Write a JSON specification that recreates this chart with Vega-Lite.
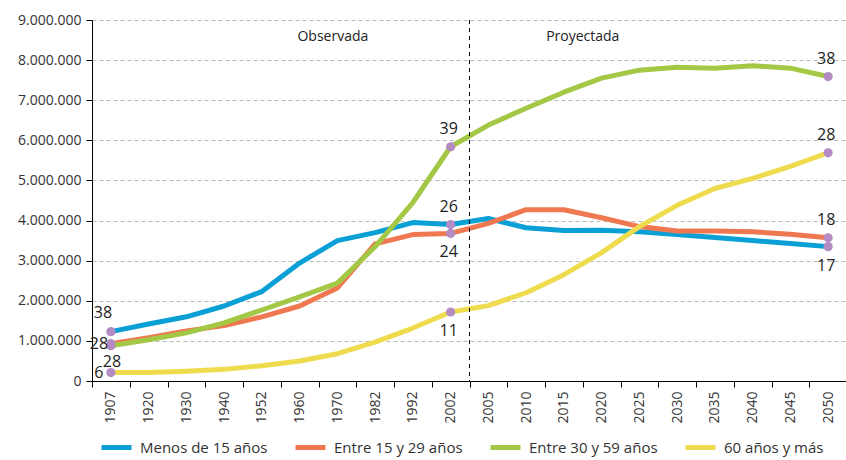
{
  "$schema": "https://vega.github.io/schema/vega-lite/v6.json",
  "width": 755,
  "height": 361,
  "autosize": "none",
  "padding": {"left": 92, "top": 20, "right": 0, "bottom": 79},
  "background": "white",
  "config": {
    "font": "Open Sans",
    "view": {"stroke": null},
    "locale": {"number": {"decimal": ",", "thousands": ".", "grouping": [3], "currency": ["", " €"]}}
  },
  "datasets": {
    "series": [
      {"year": "1907", "serie": "Menos de 15 años", "v": 1230000},
      {"year": "1920", "serie": "Menos de 15 años", "v": 1420000},
      {"year": "1930", "serie": "Menos de 15 años", "v": 1600000},
      {"year": "1940", "serie": "Menos de 15 años", "v": 1870000},
      {"year": "1952", "serie": "Menos de 15 años", "v": 2230000},
      {"year": "1960", "serie": "Menos de 15 años", "v": 2940000},
      {"year": "1970", "serie": "Menos de 15 años", "v": 3500000},
      {"year": "1982", "serie": "Menos de 15 años", "v": 3700000},
      {"year": "1992", "serie": "Menos de 15 años", "v": 3950000},
      {"year": "2002", "serie": "Menos de 15 años", "v": 3900000},
      {"year": "2005", "serie": "Menos de 15 años", "v": 4050000},
      {"year": "2010", "serie": "Menos de 15 años", "v": 3820000},
      {"year": "2015", "serie": "Menos de 15 años", "v": 3750000},
      {"year": "2020", "serie": "Menos de 15 años", "v": 3760000},
      {"year": "2025", "serie": "Menos de 15 años", "v": 3720000},
      {"year": "2030", "serie": "Menos de 15 años", "v": 3650000},
      {"year": "2035", "serie": "Menos de 15 años", "v": 3580000},
      {"year": "2040", "serie": "Menos de 15 años", "v": 3500000},
      {"year": "2045", "serie": "Menos de 15 años", "v": 3430000},
      {"year": "2050", "serie": "Menos de 15 años", "v": 3350000},
      {"year": "1907", "serie": "Entre 15 y 29 años", "v": 930000},
      {"year": "1920", "serie": "Entre 15 y 29 años", "v": 1080000},
      {"year": "1930", "serie": "Entre 15 y 29 años", "v": 1250000},
      {"year": "1940", "serie": "Entre 15 y 29 años", "v": 1380000},
      {"year": "1952", "serie": "Entre 15 y 29 años", "v": 1600000},
      {"year": "1960", "serie": "Entre 15 y 29 años", "v": 1870000},
      {"year": "1970", "serie": "Entre 15 y 29 años", "v": 2320000},
      {"year": "1982", "serie": "Entre 15 y 29 años", "v": 3420000},
      {"year": "1992", "serie": "Entre 15 y 29 años", "v": 3650000},
      {"year": "2002", "serie": "Entre 15 y 29 años", "v": 3680000},
      {"year": "2005", "serie": "Entre 15 y 29 años", "v": 3930000},
      {"year": "2010", "serie": "Entre 15 y 29 años", "v": 4270000},
      {"year": "2015", "serie": "Entre 15 y 29 años", "v": 4270000},
      {"year": "2020", "serie": "Entre 15 y 29 años", "v": 4070000},
      {"year": "2025", "serie": "Entre 15 y 29 años", "v": 3850000},
      {"year": "2030", "serie": "Entre 15 y 29 años", "v": 3740000},
      {"year": "2035", "serie": "Entre 15 y 29 años", "v": 3740000},
      {"year": "2040", "serie": "Entre 15 y 29 años", "v": 3720000},
      {"year": "2045", "serie": "Entre 15 y 29 años", "v": 3660000},
      {"year": "2050", "serie": "Entre 15 y 29 años", "v": 3570000},
      {"year": "1907", "serie": "Entre 30 y 59 años", "v": 880000},
      {"year": "1920", "serie": "Entre 30 y 59 años", "v": 1030000},
      {"year": "1930", "serie": "Entre 30 y 59 años", "v": 1200000},
      {"year": "1940", "serie": "Entre 30 y 59 años", "v": 1450000},
      {"year": "1952", "serie": "Entre 30 y 59 años", "v": 1770000},
      {"year": "1960", "serie": "Entre 30 y 59 años", "v": 2100000},
      {"year": "1970", "serie": "Entre 30 y 59 años", "v": 2440000},
      {"year": "1982", "serie": "Entre 30 y 59 años", "v": 3350000},
      {"year": "1992", "serie": "Entre 30 y 59 años", "v": 4450000},
      {"year": "2002", "serie": "Entre 30 y 59 años", "v": 5840000},
      {"year": "2005", "serie": "Entre 30 y 59 años", "v": 6380000},
      {"year": "2010", "serie": "Entre 30 y 59 años", "v": 6800000},
      {"year": "2015", "serie": "Entre 30 y 59 años", "v": 7200000},
      {"year": "2020", "serie": "Entre 30 y 59 años", "v": 7550000},
      {"year": "2025", "serie": "Entre 30 y 59 años", "v": 7750000},
      {"year": "2030", "serie": "Entre 30 y 59 años", "v": 7820000},
      {"year": "2035", "serie": "Entre 30 y 59 años", "v": 7800000},
      {"year": "2040", "serie": "Entre 30 y 59 años", "v": 7860000},
      {"year": "2045", "serie": "Entre 30 y 59 años", "v": 7800000},
      {"year": "2050", "serie": "Entre 30 y 59 años", "v": 7590000},
      {"year": "1907", "serie": "60 años y más", "v": 210000},
      {"year": "1920", "serie": "60 años y más", "v": 210000},
      {"year": "1930", "serie": "60 años y más", "v": 240000},
      {"year": "1940", "serie": "60 años y más", "v": 290000},
      {"year": "1952", "serie": "60 años y más", "v": 380000},
      {"year": "1960", "serie": "60 años y más", "v": 500000},
      {"year": "1970", "serie": "60 años y más", "v": 680000},
      {"year": "1982", "serie": "60 años y más", "v": 970000},
      {"year": "1992", "serie": "60 años y más", "v": 1320000},
      {"year": "2002", "serie": "60 años y más", "v": 1720000},
      {"year": "2005", "serie": "60 años y más", "v": 1880000},
      {"year": "2010", "serie": "60 años y más", "v": 2200000},
      {"year": "2015", "serie": "60 años y más", "v": 2650000},
      {"year": "2020", "serie": "60 años y más", "v": 3200000},
      {"year": "2025", "serie": "60 años y más", "v": 3850000},
      {"year": "2030", "serie": "60 años y más", "v": 4380000},
      {"year": "2035", "serie": "60 años y más", "v": 4800000},
      {"year": "2040", "serie": "60 años y más", "v": 5050000},
      {"year": "2045", "serie": "60 años y más", "v": 5350000},
      {"year": "2050", "serie": "60 años y más", "v": 5690000}
    ],
    "pts": [
      {"year": "1907", "serie": "Menos de 15 años", "v": 1230000, "pct": "38"},
      {"year": "1907", "serie": "Entre 15 y 29 años", "v": 930000, "pct": "28"},
      {"year": "1907", "serie": "Entre 30 y 59 años", "v": 880000, "pct": "28"},
      {"year": "1907", "serie": "60 años y más", "v": 210000, "pct": "6"},
      {"year": "2002", "serie": "Menos de 15 años", "v": 3900000, "pct": "26"},
      {"year": "2002", "serie": "Entre 15 y 29 años", "v": 3680000, "pct": "24"},
      {"year": "2002", "serie": "Entre 30 y 59 años", "v": 5840000, "pct": "39"},
      {"year": "2002", "serie": "60 años y más", "v": 1720000, "pct": "11"},
      {"year": "2050", "serie": "Menos de 15 años", "v": 3350000, "pct": "17"},
      {"year": "2050", "serie": "Entre 15 y 29 años", "v": 3570000, "pct": "18"},
      {"year": "2050", "serie": "Entre 30 y 59 años", "v": 7590000, "pct": "38"},
      {"year": "2050", "serie": "60 años y más", "v": 5690000, "pct": "28"}
    ],
    "periodos": [
      {"year": "1970", "t": "Observada"},
      {"year": "2015", "t": "Proyectada"}
    ],
    "corte": [{"year": "2005"}]
  },
  "encoding": {
    "x": {
      "field": "year", "type": "nominal",
      "scale": {"type": "band", "paddingInner": 0, "paddingOuter": 0,
        "domain": ["1907","1920","1930","1940","1952","1960","1970","1982","1992","2002","2005","2010","2015","2020","2025","2030","2035","2040","2045","2050"]},
      "axis": {
        "title": null, "labelAngle": -90, "tickBand": "extent", "grid": false,
        "domainColor": "#000", "tickColor": "#000", "tickSize": 6,
        "labelFontSize": 14, "labelColor": "#333", "labelPadding": 4, "labelBaseline": "middle"
      }
    }
  },
  "layer": [
    {
      "data": {"name": "series"},
      "mark": {"type": "line", "strokeWidth": 5, "strokeCap": "butt", "strokeJoin": "round"},
      "encoding": {
        "x": {"field": "year", "type": "nominal", "bandPosition": 0.5},
        "y": {
          "field": "v", "type": "quantitative",
          "scale": {"domain": [0, 9000000], "nice": false},
          "axis": {
            "title": null, "tickCount": 9, "format": ",.0f",
            "grid": true, "gridDash": [4, 3], "gridColor": "#b8b8b8", "gridWidth": 1,
            "domainColor": "#000", "tickColor": "#000", "tickSize": 6,
            "labelFontSize": 14, "labelColor": "#333", "labelPadding": 5
          }
        },
        "color": {
          "field": "serie", "type": "nominal",
          "scale": {
            "domain": ["Menos de 15 años", "Entre 15 y 29 años", "Entre 30 y 59 años", "60 años y más"],
            "range": ["#0AA0D6", "#F07850", "#A2C845", "#EEDC4E"]
          },
          "legend": {
            "title": null, "orient": "none", "direction": "horizontal",
            "legendX": 7, "legendY": 410, "gridAlign": "none",
            "symbolType": "stroke", "symbolSize": 900, "symbolStrokeWidth": 5,
            "labelFontSize": 15, "labelColor": "#333", "labelOffset": 6,
            "columnPadding": 17
          }
        }
      }
    },
    {
      "data": {"name": "corte"},
      "mark": {"type": "rule", "color": "#000", "strokeDash": [4, 4], "strokeWidth": 1},
      "encoding": {
        "x": {"field": "year", "type": "nominal", "bandPosition": 0}
      }
    },
    {
      "data": {"name": "periodos"},
      "transform": [{"filter": "datum.t == 'Observada'"}],
      "mark": {"type": "text", "fontSize": 14, "color": "#222", "baseline": "middle"},
      "encoding": {
        "x": {"field": "year", "type": "nominal", "bandPosition": 0.38},
        "y": {"datum": 8580000, "type": "quantitative"},
        "text": {"field": "t"}
      }
    },
    {
      "data": {"name": "periodos"},
      "transform": [{"filter": "datum.t == 'Proyectada'"}],
      "mark": {"type": "text", "fontSize": 14, "color": "#222", "baseline": "middle"},
      "encoding": {
        "x": {"field": "year", "type": "nominal", "bandPosition": 1},
        "y": {"datum": 8580000, "type": "quantitative"},
        "text": {"field": "t"}
      }
    },
    {
      "data": {"name": "pts"},
      "mark": {"type": "circle", "size": 85, "color": "#B58BC3", "opacity": 1},
      "encoding": {
        "x": {"field": "year", "type": "nominal", "bandPosition": 0.5},
        "y": {"field": "v", "type": "quantitative"}
      }
    },
    {
      "data": {"name": "pts"},
      "transform": [{"filter": "(datum.year == '2002' && (datum.serie == 'Entre 30 y 59 años' || datum.serie == 'Menos de 15 años')) || (datum.year == '2050' && datum.serie != 'Menos de 15 años')"}],
      "mark": {"type": "text", "fontSize": 16, "color": "#222", "baseline": "middle", "dy": -18, "dx": -2},
      "encoding": {
        "x": {"field": "year", "type": "nominal", "bandPosition": 0.5},
        "y": {"field": "v", "type": "quantitative"},
        "text": {"field": "pct"}
      }
    },
    {
      "data": {"name": "pts"},
      "transform": [{"filter": "(datum.year == '2002' && (datum.serie == 'Entre 15 y 29 años' || datum.serie == '60 años y más')) || (datum.year == '2050' && datum.serie == 'Menos de 15 años')"}],
      "mark": {"type": "text", "fontSize": 16, "color": "#222", "baseline": "middle", "dy": 19, "dx": -2},
      "encoding": {
        "x": {"field": "year", "type": "nominal", "bandPosition": 0.5},
        "y": {"field": "v", "type": "quantitative"},
        "text": {"field": "pct"}
      }
    },
    {
      "data": {"name": "pts"},
      "transform": [{"filter": "datum.year == '1907' && datum.serie == 'Menos de 15 años'"}],
      "mark": {"type": "text", "fontSize": 16, "color": "#222", "baseline": "middle", "dy": -19, "dx": -8},
      "encoding": {
        "x": {"field": "year", "type": "nominal", "bandPosition": 0.5},
        "y": {"field": "v", "type": "quantitative"},
        "text": {"field": "pct"}
      }
    },
    {
      "data": {"name": "pts"},
      "transform": [{"filter": "datum.year == '1907' && (datum.serie == 'Entre 15 y 29 años' || datum.serie == '60 años y más')"}],
      "mark": {"type": "text", "fontSize": 16, "color": "#222", "baseline": "middle", "dy": 0, "dx": -12},
      "encoding": {
        "x": {"field": "year", "type": "nominal", "bandPosition": 0.5},
        "y": {"field": "v", "type": "quantitative"},
        "text": {"field": "pct"}
      }
    },
    {
      "data": {"name": "pts"},
      "transform": [{"filter": "datum.year == '1907' && datum.serie == 'Entre 30 y 59 años'"}],
      "mark": {"type": "text", "fontSize": 16, "color": "#222", "baseline": "middle", "dy": 16, "dx": 1},
      "encoding": {
        "x": {"field": "year", "type": "nominal", "bandPosition": 0.5},
        "y": {"field": "v", "type": "quantitative"},
        "text": {"field": "pct"}
      }
    }
  ]
}
